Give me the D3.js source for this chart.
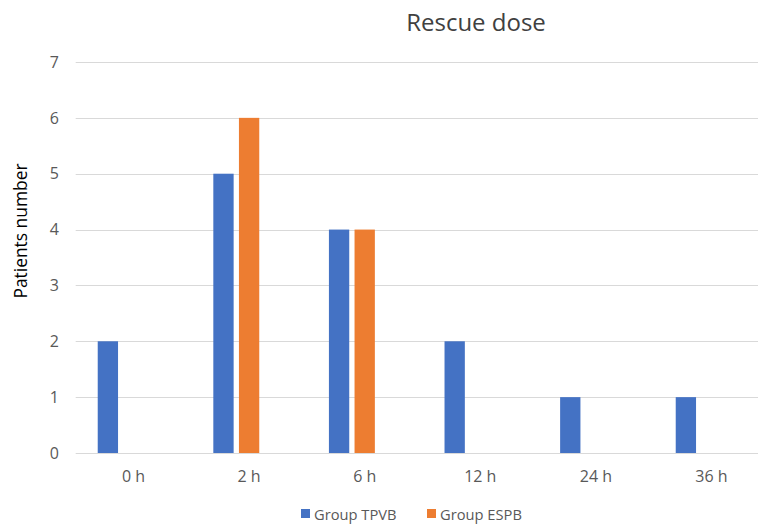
<!DOCTYPE html>
<html>
<head>
<meta charset="utf-8">
<script src="https://cdn.jsdelivr.net/npm/d3@7"></script>
<style>
  body { margin: 0; background: #fff; }
  text { font-family: "Open Sans", sans-serif; fill: #595959; }
</style>
</head>
<body>
<div id="chart"></div>
<script>
const categories = ["0 h", "2 h", "6 h", "12 h", "24 h", "36 h"];
const seriesNames = ["Group TPVB", "Group ESPB"];
const tpvb = [2, 5, 4, 2, 1, 1];
const espb = [0, 6, 4, 0, 0, 0];
const yTicks = [0, 1, 2, 3, 4, 5, 6, 7];

const colors = ["#4472C4", "#ED7D31"];
const values = [tpvb, espb];

const width = 758, height = 525;
const plot = { left: 75.7, right: 769.3, top: 62, bottom: 453 };

const svg = d3.select("#chart").append("svg")
  .attr("width", width)
  .attr("height", height);

const x = d3.scaleBand()
  .domain(categories)
  .range([plot.left, plot.right])
  .paddingInner(0.381)
  .paddingOuter(0.1905);

// excel leaves a third (empty) slot in each group, so bars sit left of the label
const x1 = d3.scaleBand()
  .domain([0, 1, 2])
  .range([0, x.bandwidth()])
  .paddingInner(0.207);

const y = d3.scaleLinear()
  .domain([0, 7])
  .range([plot.bottom, plot.top]);

// gridlines
svg.append("g")
  .selectAll("line")
  .data(yTicks)
  .join("line")
  .attr("x1", plot.left)
  .attr("x2", plot.right)
  .attr("y1", (d) => Math.round(y(d)) + 0.5)
  .attr("y2", (d) => Math.round(y(d)) + 0.5)
  .attr("stroke", "#d9d9d9")
  .attr("stroke-width", 1);

// y tick labels
svg.append("g")
  .selectAll("text")
  .data(yTicks)
  .join("text")
  .attr("x", 59)
  .attr("y", (d) => y(d))
  .attr("dy", "0.36em")
  .attr("text-anchor", "end")
  .style("font-size", "16px")
  .text((d) => d);

// bars
seriesNames.forEach((name, s) => {
  svg.append("g")
    .selectAll("rect")
    .data(categories)
    .join("rect")
    .attr("x", (d) => x(d) + x1(s))
    .attr("width", x1.bandwidth())
    .attr("y", (d, i) => y(values[s][i]))
    .attr("height", (d, i) => y(0) - y(values[s][i]))
    .attr("fill", colors[s]);
});

// x labels
svg.append("g")
  .selectAll("text")
  .data(categories)
  .join("text")
  .attr("x", (d) => x(d) + x.bandwidth() / 2)
  .attr("y", 482)
  .attr("text-anchor", "middle")
  .style("font-size", "16px")
  .text((d) => d);

// title
svg.append("text")
  .attr("x", 476)
  .attr("y", 31)
  .attr("text-anchor", "middle")
  .style("font-size", "24px")
  .style("fill", "#404040")
  .text("Rescue dose");

// y axis title
svg.append("text")
  .attr("transform", "translate(27,231) rotate(-90)")
  .attr("text-anchor", "middle")
  .style("font-size", "17.4px")
  .style("fill", "#000")
  .text("Patients number");

// legend
const legendX = [301, 427];
const legend = svg.append("g")
  .selectAll("g")
  .data(seriesNames)
  .join("g")
  .attr("transform", (d, i) => `translate(${legendX[i]},509)`);

legend.append("rect")
  .attr("width", 9)
  .attr("height", 9)
  .attr("fill", (d, i) => colors[i]);

legend.append("text")
  .attr("x", 13)
  .attr("y", 10.5)
  .style("font-size", "14.7px")
  .text((d) => d);
</script>
</body>
</html>
